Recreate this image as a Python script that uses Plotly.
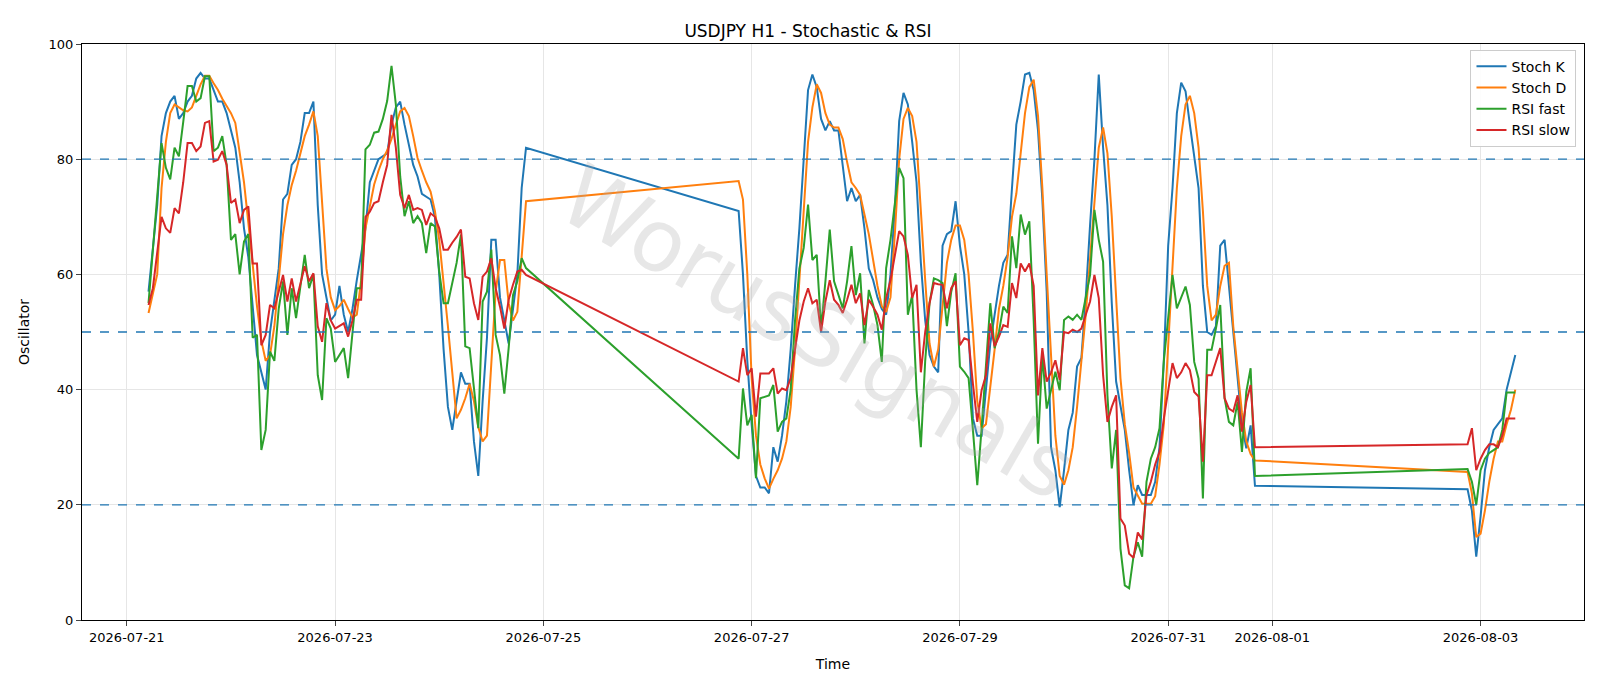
import pandas as pd
import plotly.graph_objects as go

START = "2026-07-21 00:00"
TITLE = "USDJPY H1 - Stochastic & RSI"
TICK_DATES = ["2026-07-21", "2026-07-23", "2026-07-25", "2026-07-27",
              "2026-07-29", "2026-07-31", "2026-08-01", "2026-08-03"]
LEVELS = [20, 50, 80]

# values keyed by hours since START
STOCH_K = {5:57,7:72,8:84,9:88,10:90,11:91,12:87,13:88,14:90,15:91,16:94,17:95,18:94,19:94,21:90,22:90,23:88,24:85,25:82,26:76,27:68,28:63,29:54,30:46,31:43,32:40,33:50,35:61,36:73,37:74,38:79,39:80,40:83,41:88,42:88,43:90,44:72,45:60,46:56,47:52,48:53,49:58,50:53,51:50,52:54,53:59,55:68,56:76,58:80,60:81,61:86,62:89,63:90,64:86,66:79,67:77,68:74,70:73,71:70,72:60,73:47,74:37,75:33,77:43,78:41,79:41,80:31,81:25,82:38,83:49,84:66,85:66,86:56,87:52,88:48,90:60,91:75,92:82,
 141:71,142:60,143:45,144:34,145:25,146:23,147:23,148:22,149:30,150:27.5,151:32,152:38,153:47,154:58,155:68,156:80,157:92,158:94.7,159:92.5,160:87,161:85,162:86.6,163:85,164:85,165:78.5,166:72.7,167:75,168:72.7,169:73.8,170:68,171:61,172:59,173:56,174:54,175:53,176:60,177:71.5,178:86.6,179:91.5,180:89.5,181:83,182:76,183:62,184:52,185:46,186:44,187:43,188:65,189:67,190:67.5,191:72.7,192:65,193:60,194:50,195:35,196:32,197:32,198:40,199:48,200:53,201:58,202:62,203:63.4,204:75,205:86,206:90,207:94.7,208:95,209:92,210:85,211:73,212:57,213:30,214:26,215:19.6,216:26,217:33,218:36,219:44,220:45.5,221:56,222:68.6,223:80,224:94.7,225:82,226:72,227:55,228:41.4,229:37,230:33,231:26,232:20,233:23.4,234:21.7,235:21.7,236:21.7,237:24,238:30,239:45,240:65,241:75,242:88,243:93.3,244:91.8,245:86,246:80,247:75,248:58,249:50,250:49.5,251:51,252:65,253:66,254:58,255:50,256:41,257:34,258:29.8,259:33.8,260:23.3,
 309:22.7,310:19,311:11,312:18,313:26,314:30,315:33,316:34,317:35,318:40,319:43,320:46}

STOCH_D = {5:53.3,7:60,8:75,9:83,10:88,11:89.5,12:89,13:88.5,14:88.3,15:89,16:91,17:93,18:94.5,19:94.5,20:93.2,21:92,22:90.5,23:89.2,24:88,25:86.3,26:81,27:76,28:69,29:61.5,30:54.5,31:48.5,32:45,33:46,34:51,35:59,36:67,37:72,38:75.5,39:78,40:81,41:84,42:86,43:88.3,44:84,45:72,46:61,47:56,48:53.8,49:54.5,50:55.6,51:54,52:52.5,53:53,54:59,55:68,56:72,57:75.6,58:78,59:80,60:81.5,61:83.5,62:86,63:88.3,64:88.9,65:87.5,66:84,67:80.2,68:78,69:76,70:74.4,71:71,72:66,73:59,74:51,75:43,76:35,77:36.5,78:38.5,79:41,80:38,81:33.5,82:31,83:32,84:44,85:57,86:62.5,87:62.5,88:55,89:52,90:53.5,91:63,92:72.7,
 141:76.2,142:73,143:60,144:42,145:32,146:27,147:24.6,148:22.8,149:24.5,150:26,151:28,152:31,153:37,154:47,155:59,156:72,157:83,158:89,159:93,160:91.5,161:88,162:86,163:85.5,164:85.5,165:83.5,166:79.5,167:76,168:75,169:73.8,170:70.4,171:67,172:62.5,173:58,174:54.5,175:53.5,176:56,177:67,178:80,179:87,180:88.9,181:87.5,182:83,183:70,184:59,185:48,186:44,187:47,188:55,189:62,190:66,191:68.5,192:68.5,193:66,194:60,195:50,196:38,197:33.3,198:34,199:40,200:47,201:54,202:58,203:63,204:70,205:74,206:81,207:88,208:92.5,209:93.8,210:87.5,211:75,212:60,213:45,214:32,215:25,216:23.5,217:26,218:30,219:37,220:45,221:53,222:62.8,223:72,224:82,225:85.5,226:81,227:70,228:57,229:42,230:34,231:29,232:23,233:21.5,234:20.2,235:20.2,236:20.2,237:21.5,238:27,239:34,240:47,241:60,242:75,243:84,244:89.5,245:91,246:88,247:82,248:71,249:58,250:52,251:53,252:58,253:61.5,254:62,255:51,256:43.5,257:36,258:31,259:28.8,260:27.7,
 309:25.7,310:22,311:14.4,312:15,313:19,314:24,315:28,316:31,317:31,318:34,319:36.5,320:40}

RSI_FAST = {5:55,7:73,8:82.8,9:78.5,10:76.5,11:82,12:80.5,13:86.5,14:92.7,15:92.7,16:90,17:90.6,18:94.4,19:94.4,20:81.4,21:82,22:84,23:79,24:66,25:67,26:60,27:65.7,28:67,29:49,30:49.5,31:29.5,32:33,33:46.6,34:45,35:54,36:58.8,37:49.5,38:57.6,39:52.4,40:57.6,41:63.4,42:57.6,43:60,44:42.5,45:38.2,46:52.4,47:50.6,48:44.8,49:46,50:47.2,51:42,52:50,53:57.6,54:57.6,55:81.7,56:82.5,57:84.6,58:84.8,59:87,60:90.1,61:96.2,62:89.5,63:77,64:70.1,65:72.7,66:68.9,67:70.1,68:68.9,69:63.7,70:68.9,71:68.3,72:60.5,73:55,74:55,75:58.5,76:62,77:66.9,78:47.5,79:47.2,80:40,81:33.3,82:55.3,83:57,84:64.3,85:49.5,86:46,87:39.3,88:47.2,89:56.4,90:58.8,91:62.8,92:61.1,
 141:28,142:40.2,143:33.8,144:35.6,145:24.6,146:38.5,147:38.8,148:39,149:40.8,150:32.7,151:34.4,152:35,153:40,154:52,155:61,156:64.6,157:72.1,158:62.5,159:63.4,160:50.6,161:58.8,162:67.8,163:58.8,164:56.4,165:54.1,166:58.8,167:64.9,168:56.4,169:60.2,170:48,171:57.3,172:54.7,173:51.2,174:44.8,175:61.1,176:66,177:72,178:78.5,179:76.7,180:53,181:56.4,182:40,183:30,184:45,185:55,186:59.3,187:59,188:58.5,189:51,190:57,191:60.2,192:44,193:43.1,194:42,195:33,196:23.4,197:33.3,198:44,199:55,200:47.2,201:50,202:54.4,203:53.3,204:66.6,205:61.1,206:70.4,207:66.9,208:69.2,209:52,210:30.6,211:46,212:36.7,213:40,214:43.1,215:39.9,216:52.1,217:52.7,218:52.1,219:53,220:52.1,221:56,222:59.9,223:71.2,224:66,225:62.2,226:39,227:26.3,228:33,229:12.4,230:6,231:5.5,232:11,233:13.5,234:11,235:24,236:28,237:30,238:33.3,239:45,240:52,241:59.9,242:54.1,243:56,244:57.9,245:54.7,246:44.8,247:41.9,248:21.1,249:46.9,250:46.9,251:50.6,252:54.7,253:38.5,254:34.4,255:33.8,256:37.9,257:29.2,258:39.6,259:43.7,260:25,
 309:26.2,310:24,311:20,312:26,313:28,314:29,315:29.5,316:30,317:33,318:39.5,319:39.5,320:39.5}

RSI_SLOW = {5:54.7,6:57.6,8:70,9:68,10:67.2,11:71.5,12:70.6,13:76,14:82.8,15:82.8,16:81.4,17:82.2,18:86.3,19:86.6,20:79.6,21:79.9,22:81.4,23:79,24:72.4,25:73,26:68.9,27:71.2,28:71.8,29:61.9,30:61.9,31:47.7,32:49.5,33:54.7,34:54.1,35:57,36:59.9,37:55.3,38:59.3,39:55.3,40:58.2,41:61.4,42:58.8,43:60.2,44:51,45:48.3,46:55,47:52,48:50.6,49:51,50:51.5,51:49.2,52:52,53:55.6,54:55.6,55:70,56:70.9,57:72.4,58:72.7,59:76,60:79,61:87.7,62:82,63:73.8,64:71.5,65:73.8,66:71.2,67:71.5,68:71.2,69:68.6,70:70.6,71:70,72:68,73:64.3,74:64.3,75:65.5,76:66.5,77:67.8,78:59.6,79:59.3,80:55,81:52.1,82:59.6,83:60.5,84:62.8,85:57.6,86:54.4,87:50.6,88:55.6,89:58.2,90:60.5,91:60.8,92:59.9,
 141:41.4,142:47.2,143:42.5,144:43.7,145:35.3,146:42.8,147:42.8,148:42.8,149:43.7,150:39.3,151:40.2,152:39.9,153:42,154:47,155:52,156:55.3,157:57.6,158:55,159:55.6,160:50,161:55.3,162:59,163:55.6,164:54.7,165:53.3,166:55.6,167:58.2,168:55,169:56.7,170:51.2,171:55.6,172:54.4,173:53,174:50.4,175:55.9,176:59,177:63,178:67.5,179:66.6,180:63.4,181:55.9,182:58.2,183:43,184:50,185:55,186:58.5,187:58.3,188:58.2,189:54.1,190:57.6,191:58.8,192:47.7,193:48.9,194:48.6,195:41,196:34.4,197:39.9,198:42.5,199:51.5,200:47.5,201:49.2,202:51.2,203:50.9,204:58.5,205:55.9,206:61.9,207:60.5,208:61.9,209:58,210:39,211:47.2,212:41.4,213:43,214:45.1,215:41.7,216:50,217:49.8,218:50.4,219:50,220:50.6,221:53,222:55.3,223:59.9,224:55.9,225:42.5,226:34.4,227:37,228:39,229:17.6,230:16.4,231:11.5,232:10.8,233:15.2,234:14,235:21.7,236:24,237:27,238:29.2,239:35,240:39.6,241:44.6,242:42,243:43,244:44.6,245:43.4,246:39.6,247:38.8,248:27.5,249:42.5,250:42.5,251:45,252:47.2,253:38.5,254:36.7,255:36.2,256:39,257:32.7,258:37.9,259:40.8,260:30,
 309:30.5,310:33.3,311:26,312:28,313:29.5,314:30.5,315:30.5,316:30,317:32,318:35,319:35,320:35}

SERIES = [("Stoch K", STOCH_K, "#1f77b4"), ("Stoch D", STOCH_D, "#ff7f0e"),
          ("RSI fast", RSI_FAST, "#2ca02c"), ("RSI slow", RSI_SLOW, "#d62728")]

t0 = pd.Timestamp(START)
fig = go.Figure()
for name, d, col in SERIES:
    hrs = sorted(d)
    fig.add_trace(go.Scatter(x=[t0 + pd.Timedelta(hours=h) for h in hrs], y=[d[h] for h in hrs],
                             mode="lines", name=name, line=dict(color=col, width=2)))
for lv in LEVELS:
    fig.add_hline(y=lv, line=dict(color="#1f77b4", width=1.3, dash="dash"))

fig.add_annotation(text="WorusSignals", x=0.49, y=0.5, xref="paper", yref="paper",
                   showarrow=False, textangle=30,
                   font=dict(family="DejaVu Sans", size=86, color="rgba(170,170,170,0.28)"))

fig.update_layout(
    width=1600, height=686, paper_bgcolor="white", plot_bgcolor="white",
    margin=dict(l=74, r=24, t=36, b=74),
    title=dict(text=TITLE, x=0.5, y=0.975, xanchor="center", font=dict(size=17, color="black")),
    font=dict(family="DejaVu Sans", color="black", size=13),
    legend=dict(x=0.995, y=0.99, xanchor="right", yanchor="top", bordercolor="#cccccc",
                borderwidth=1, bgcolor="rgba(255,255,255,0.9)", font=dict(size=14)),
    xaxis=dict(title=dict(text="Time", font=dict(size=14)), tickvals=TICK_DATES, ticktext=TICK_DATES,
               showgrid=True, gridcolor="#e6e6e6", showline=True, linecolor="black", mirror=True,
               ticks="outside", range=["2026-07-20 13:40", "2026-08-03 23:50"], tickfont=dict(size=13)),
    yaxis=dict(title=dict(text="Oscillator", font=dict(size=14)), range=[0, 100], dtick=20,
               showgrid=True, gridcolor="#e6e6e6", showline=True, linecolor="black", mirror=True,
               ticks="outside", zeroline=False, tickfont=dict(size=13)),
)
fig.write_html("out.html")
